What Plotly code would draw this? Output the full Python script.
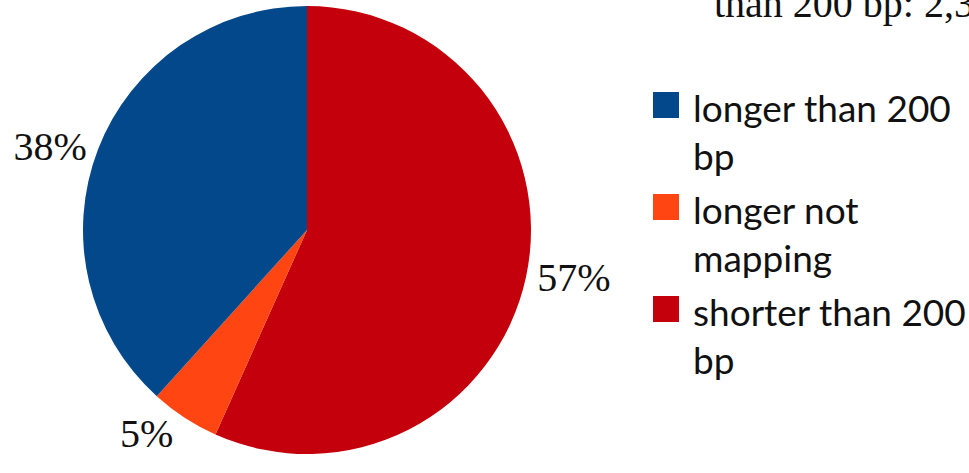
import plotly.graph_objects as go

# slice order as drawn clockwise from 12 o'clock
labels = ["shorter than 200<br>bp", "longer not<br>mapping", "longer than 200<br>bp"]
values = [56.7, 5.0, 38.3]
colors = ["#c3000c", "#ff4612", "#03488a"]
title_text = "than 200 bp: 2,3"

# legend order (top to bottom)
legend_order = [2, 1, 0]

W, H = 969, 473
cx, cy, r = 307, 230, 224

fig = go.Figure(go.Pie(
    labels=labels,
    values=values,
    sort=False,
    direction="clockwise",
    rotation=0,
    marker=dict(colors=colors, line=dict(width=0)),
    textposition="outside",
    texttemplate="%{percent:.0%}",
    textfont=dict(family="Liberation Serif", size=40, color="#111111"),
    hoverinfo="label+percent",
    showlegend=False,
    domain=dict(x=[(cx - r) / W, (cx + r) / W], y=[1 - (cy + r) / H, 1 - (cy - r) / H]),
))

fig.add_annotation(
    text=title_text, xref="paper", yref="paper",
    x=712 / W, y=1 - 28 / H, xanchor="left", yanchor="bottom",
    showarrow=False,
    font=dict(family="Liberation Serif", size=40, color="#111111"),
)

# legend drawn as key squares + wrapped text
sq_x0, sq_x1 = 653, 679
sq_top0, step = 92, 102
for k, i in enumerate(legend_order):
    top = sq_top0 + k * step
    fig.add_shape(type="rect", xref="paper", yref="paper",
                  x0=sq_x0 / W, x1=sq_x1 / W, y0=1 - top / H, y1=1 - (top + 26) / H,
                  fillcolor=colors[i], line=dict(width=0))
    fig.add_annotation(
        text=labels[i], xref="paper", yref="paper",
        x=691 / W, y=1 - (top + 39) / H, xanchor="left", yanchor="middle", align="left",
        showarrow=False,
        font=dict(family="Lato", size=37, color="#111111"),
    )

fig.update_layout(
    width=W, height=H,
    margin=dict(l=0, r=0, t=0, b=0),
    paper_bgcolor="white",
    plot_bgcolor="white",
)

fig.write_html("out.html", config={"displayModeBar": False},
               post_script="document.body.style.margin='0px';")
